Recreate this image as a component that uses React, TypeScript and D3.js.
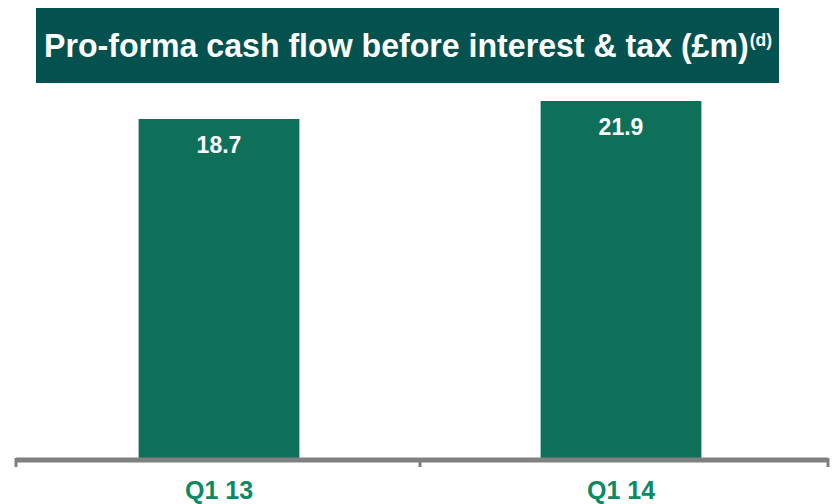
import { useEffect, useRef } from 'react';
import * as d3 from 'd3';

const categories = ['Q1 13', 'Q1 14'];
const values = [18.7, 21.9];
const title = 'Pro-forma cash flow before interest & tax (£m)';
const titleSup = '(d)';

const W = 836;
const H = 504;

export default function App() {
  const ref = useRef<SVGSVGElement>(null);

  useEffect(() => {
    const svg = d3.select(ref.current);
    svg.selectAll('*').remove();

    const x = d3.scaleBand<string>()
      .domain(categories)
      .range([18, 822])
      .paddingInner(0.6)
      .paddingOuter(0.3);
    // the source graphic truncates the value axis, bars do not start at zero
    const y = d3.scaleLinear().domain([-41.6, 21.9]).range([458, 101]);
    const base = 458;

    // title box
    svg.append('rect')
      .attr('x', 36).attr('y', 8)
      .attr('width', 743).attr('height', 75)
      .attr('fill', '#03524f');
    const t = svg.append('text')
      .attr('x', 44).attr('y', 57)
      .attr('fill', '#ffffff')
      .attr('font-family', 'Liberation Sans, Arial, sans-serif')
      .attr('font-weight', 'bold')
      .attr('font-size', 33)
      .attr('textLength', 728)
      .attr('lengthAdjust', 'spacingAndGlyphs');
    t.append('tspan').text(title);
    t.append('tspan').attr('dx', 1).attr('dy', -11).attr('font-size', 18).text(titleSup);

    // bars
    svg.selectAll('rect.bar')
      .data(values)
      .enter().append('rect')
      .attr('class', 'bar')
      .attr('x', (_, i) => x(categories[i])!)
      .attr('y', d => y(d))
      .attr('width', x.bandwidth())
      .attr('height', d => base - y(d))
      .attr('fill', '#0f705a');

    svg.selectAll('text.val')
      .data(values)
      .enter().append('text')
      .attr('class', 'val')
      .attr('x', (_, i) => x(categories[i])! + x.bandwidth() / 2)
      .attr('y', d => y(d) + 34)
      .attr('text-anchor', 'middle')
      .attr('fill', '#ffffff')
      .attr('font-family', 'Liberation Sans, Arial, sans-serif')
      .attr('font-weight', 'bold')
      .attr('font-size', 23)
      .text(d => d.toFixed(1));

    // axis
    const axis = svg.append('g');
    axis.append('line')
      .attr('x1', 16).attr('x2', 828)
      .attr('y1', base + 2).attr('y2', base + 2)
      .attr('stroke', '#808080').attr('stroke-width', 5);
    const tickX = [16, (x(categories[0])! + x.bandwidth() + x(categories[1])!) / 2, 828];
    axis.selectAll('line.tick')
      .data(tickX)
      .enter().append('line')
      .attr('class', 'tick')
      .attr('x1', d => d).attr('x2', d => d)
      .attr('y1', base).attr('y2', base + 9)
      .attr('stroke', '#808080').attr('stroke-width', 3);

    svg.selectAll('text.cat')
      .data(categories)
      .enter().append('text')
      .attr('class', 'cat')
      .attr('x', d => x(d)! + x.bandwidth() / 2)
      .attr('y', 499)
      .attr('text-anchor', 'middle')
      .attr('fill', '#0a8a62')
      .attr('font-family', 'Liberation Sans Narrow, Liberation Sans, Arial, sans-serif')
      .attr('font-weight', 'bold')
      .attr('font-size', 25)
      .text(d => d);
  }, []);

  return <svg ref={ref} width={W} height={H} style={{ position: 'absolute', left: 0, top: 0, background: '#fff' }} />;
}
